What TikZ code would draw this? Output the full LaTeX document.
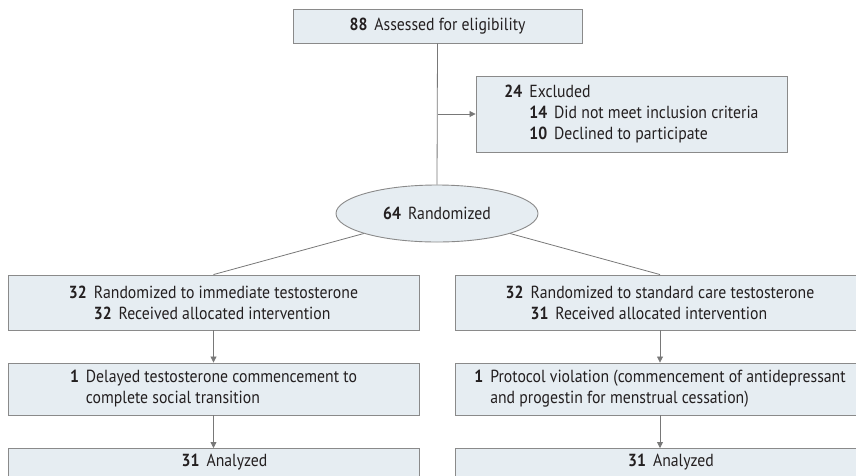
\documentclass[tikz,border=0pt]{standalone}
\usepackage{fontspec}
\setmainfont[FakeStretch=0.9]{PT Sans}
\usetikzlibrary{arrows.meta,positioning,shapes.geometric}
\definecolor{cfill}{RGB}{230,237,242}
\definecolor{cedge}{RGB}{138,138,138}
\definecolor{cline}{RGB}{120,120,120}
\definecolor{ctext}{RGB}{35,31,32}
\newcommand{\cnt}[1]{\textbf{#1}\hskip 7pt}
\newcommand{\ind}[1]{\phantom{\cnt{#1}}}
\tikzset{
  fbox/.style={draw=cedge, fill=cfill, line width=0.9pt, text=ctext, align=left,
               font=\fontsize{17.5}{21}\selectfont, inner sep=0pt,
               minimum width=#1},
  fell/.style={draw=cedge, fill=cfill, line width=0.9pt, text=ctext, ellipse,
               font=\fontsize{17.5}{21}\selectfont, inner sep=0pt,
               minimum width=202pt, minimum height=57pt},
  link/.style={draw=cline, line width=0.8pt},
  flow/.style={link, -{Triangle[width=6pt,length=6pt]}},
}

\begin{document}
\begin{tikzpicture}[x=1pt, y=-1pt]
\useasboundingbox (0,0) rectangle (856,475);
% Top: screening
\node[fbox=289pt, minimum height=34pt] (elig) at (437.5, 26) {\cnt{88}Assessed for eligibility};
\node[fbox=311pt, minimum height=76pt] (excl) at (631.5, 114) {%
\cnt{24}Excluded\\
\ind{24}\cnt{14}Did not meet inclusion criteria\\
\ind{24}\cnt{10}Declined to participate};
\node[fell] (rand) at (437, 213.5) {\cnt{64}Randomized};
\coordinate (exit) at (excl.west -| elig.south);

\draw[link] (elig.south) -- (rand.north);
\draw[flow] (exit) -- (excl.west);

% Row 1: allocation
\node[fbox=411pt, minimum height=55pt] (immT) at (213.5, 302.5) {%
\cnt{32}Randomized to immediate testosterone\\
\ind{32}\cnt{32}Received allocated intervention};
\node[fbox=410pt, minimum height=55pt] (stdT) at (660, 302.5) {%
\cnt{32}Randomized to standard care testosterone\\
\ind{32}\cnt{31}Received allocated intervention};

\draw[link] (rand) -- (immT.north);
\draw[link] (rand) -- (stdT.north);

% Row 2: follow-up
\node[fbox=411pt, minimum height=52pt] (delay) at (213.5, 389) {%
\cnt{1}Delayed testosterone commencement to\\
\ind{1}complete social transition};
\node[fbox=410pt, minimum height=52pt] (violn) at (660, 389) {%
\cnt{1}Protocol violation (commencement of antidepressant\\
\ind{1}and progestin for menstrual cessation)};

\draw[flow] (immT) -- (delay);
\draw[flow] (stdT) -- (violn);

% Row 3: analysis (runs off the page)
\node[fbox=411pt, minimum height=28pt, anchor=north] (anaL) at (213.5, 448) {\hspace*{22pt}\cnt{31}Analyzed};
\node[fbox=410pt, minimum height=28pt, anchor=north] (anaR) at (660, 448) {\hspace*{22pt}\cnt{31}Analyzed};

\draw[flow] (delay) -- (anaL);
\draw[flow] (violn) -- (anaR);
\end{tikzpicture}
\end{document}
